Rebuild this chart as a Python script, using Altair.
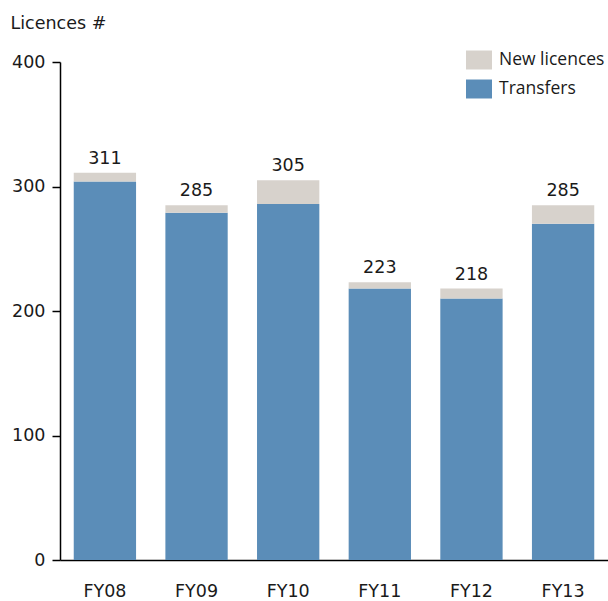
import altair as alt
import pandas as pd

years = ["FY08", "FY09", "FY10", "FY11", "FY12", "FY13"]
transfers = [304, 279, 286, 218, 210, 270]
new_licences = [7, 6, 19, 5, 8, 15]
totals = [311, 285, 305, 223, 218, 285]

series = ["New licences", "Transfers"]
colors = ["#D7D2CC", "#5B8DB8"]

rows = []
for y, t, n in zip(years, transfers, new_licences):
    rows.append({"year": y, "series": "Transfers", "value": t, "ord": 0})
    rows.append({"year": y, "series": "New licences", "value": n, "ord": 1})
df = pd.DataFrame(rows)
df_tot = pd.DataFrame({"year": years, "total": totals})

FONT = "DejaVu Sans"
LEG_FONT = "Open Sans"
FS = 17.5
TXT = "#1a1a1a"

bars = alt.Chart(df).mark_bar().encode(
    x=alt.X("year:N", sort=years, title=None,
            scale=alt.Scale(paddingInner=0.32, paddingOuter=0.15),
            axis=alt.Axis(ticks=False, labelAngle=0, labelPadding=22, labelFontSize=FS,
                          labelColor=TXT, domainColor="#000", labelFont=FONT)),
    y=alt.Y("value:Q", stack="zero",
            scale=alt.Scale(domain=[0, 400]),
            axis=alt.Axis(values=[0, 100, 200, 300, 400], tickSize=8, labelPadding=7,
                          labelFontSize=FS, labelColor=TXT, domainColor="#000",
                          tickColor="#000", labelFont=FONT, grid=False,
                          title="Licences #", titleAngle=0, titleAlign="left",
                          titleBaseline="alphabetic", titleX=-50, titleY=-34,
                          titleFontSize=FS, titleFontWeight="normal", titleColor=TXT,
                          titleFont=FONT)),
    color=alt.Color("series:N", scale=alt.Scale(domain=series, range=colors),
                    legend=alt.Legend(title=None, orient="none", legendX=406, legendY=-15,
                                      symbolType="M-1,-0.73H1V0.73H-1Z", symbolSize=676,
                                      symbolStrokeWidth=0, symbolOpacity=1,
                                      labelFontSize=FS, labelFont=LEG_FONT, labelColor=TXT,
                                      labelOffset=7, rowPadding=6, padding=0)),
    order=alt.Order("ord:Q"),
)

labels = alt.Chart(df_tot).mark_text(baseline="bottom", dy=-5, fontSize=FS, font=FONT,
                                     color=TXT).encode(
    x=alt.X("year:N", sort=years),
    y=alt.Y("total:Q"),
    text=alt.Text("total:Q"),
)

chart = alt.layer(bars, labels).properties(
    width=548, height=498,
    autosize=alt.AutoSizeParams(type="none"),
    padding={"left": 60, "top": 62, "right": 0, "bottom": 41},
).configure_view(stroke=None).configure_axis(domainWidth=1.5, tickWidth=1.5)

chart.save("out.html", embed_options={"renderer": "svg", "actions": False})
